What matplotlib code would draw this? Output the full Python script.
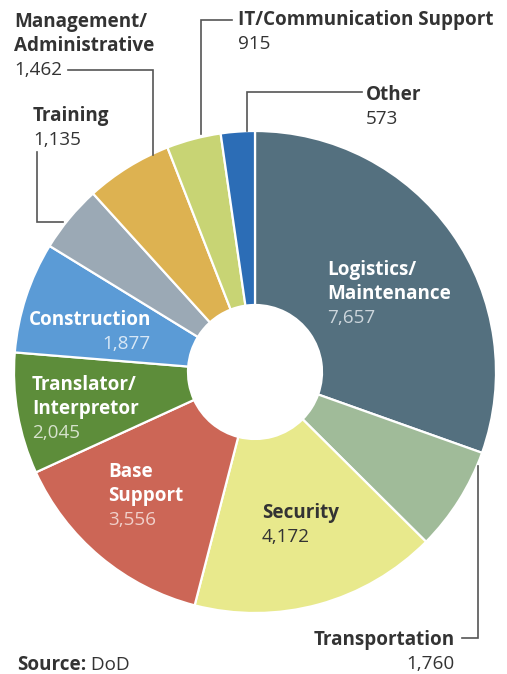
import matplotlib.pyplot as plt

plt.rcParams['font.family'] = ['Open Sans', 'DejaVu Sans']

# data, clockwise from the top
categories = ['Logistics/\nMaintenance', 'Transportation', 'Security', 'Base\nSupport',
              'Translator/\nInterpretor', 'Construction', 'Training',
              'Management/\nAdministrative', 'IT/Communication Support', 'Other']
values = [7657, 1760, 4172, 3556, 2045, 1877, 1135, 1462, 915, 573]
colors = ['#54707f', '#a0bb99', '#e8e98c', '#cc6656', '#5d8d3a',
          '#5b9bd6', '#9ba9b5', '#ddb251', '#c8d474', '#2c6db6']

W, H = 507, 674
fig = plt.figure(figsize=(W / 100, H / 100), dpi=100)
ax = fig.add_axes([0, 0, 1, 1])
ax.set_xlim(0, W)
ax.set_ylim(0, H)
ax.set_aspect('equal')
ax.axis('off')

cx, cy, R, r_in = 255, H - 372, 241, 67
ax.pie(values, colors=colors, startangle=90, counterclock=False,
       center=(cx, cy), radius=R,
       wedgeprops=dict(width=R - r_in, edgecolor='white', linewidth=1.6))
ax.set_xlim(0, W)
ax.set_ylim(0, H)

DARK = '#333333'
FS = 13.6


def label(x, y, name, num, color=DARK, numcolor=DARK, ha='left', num_x=None):
    # y given in pixels from top, one line every 24 px
    lines = name.split('\n')
    for i, ln in enumerate(lines):
        ax.text(x, H - (y + 24 * i), ln, fontsize=FS, fontweight='bold',
                color=color, ha=ha, va='center')
    nx = x if num_x is None else num_x
    nha = ha if num_x is None else 'right'
    ax.text(nx, H - (y + 24 * len(lines)), f'{num:,}', fontsize=FS,
            color=numcolor, ha=nha, va='center')


def leader(pts):
    xs = [p[0] for p in pts]
    ys = [H - p[1] for p in pts]
    ax.plot(xs, ys, color='#555555', lw=1.2, solid_joinstyle='miter')


d = dict(zip(range(len(values)), values))

# outside labels
label(14, 22, categories[7], d[7])
leader([(68, 70), (153, 70), (153, 155)])
label(33, 116, categories[6], d[6])
leader([(37, 152), (37, 222), (63, 222)])
label(238, 20, categories[8], d[8])
leader([(232, 20), (201, 20), (201, 134)])
label(366, 95, categories[9], d[9])
leader([(362, 92), (247, 92), (247, 131)])
label(455, 640, categories[1], d[1], ha='right')
leader([(462, 638), (478, 638), (478, 466)])

# inside labels
label(327, 270, categories[0], d[0], color='white', numcolor='#cdd6dc')
label(262, 513, categories[2], d[2])
label(108, 472, categories[3], d[3], color='white', numcolor='#f0d0ca')
label(32, 385, categories[4], d[4], color='white', numcolor='#d6e2cc')
label(29, 320, categories[5], d[5], color='white', numcolor='#d8e8f6', num_x=151)

t = ax.text(17, H - 665, 'Source:', fontsize=FS, fontweight='bold', color=DARK,
            ha='left', va='center')
ax.annotate(' DoD', xycoords=t, xy=(1, 0.5), va='center', ha='left',
            fontsize=FS, color=DARK)

fig.savefig('out.png', dpi=100)
